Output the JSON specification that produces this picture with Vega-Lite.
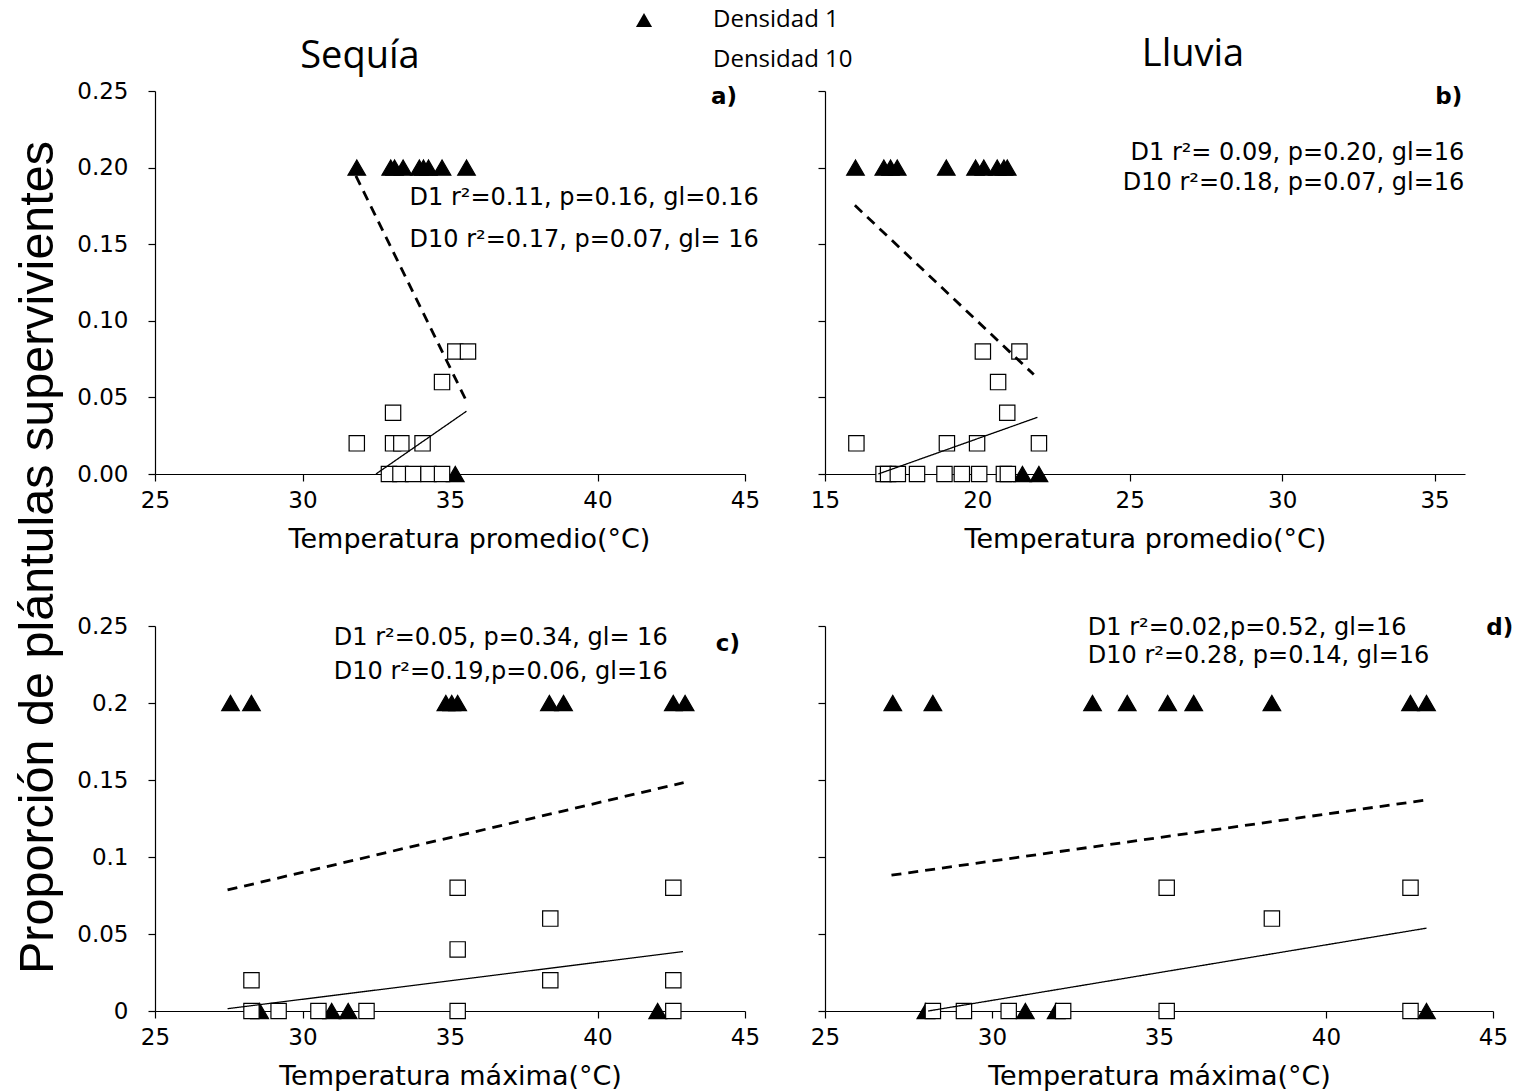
{
  "$schema": "https://vega.github.io/schema/vega-lite/v6.json",
  "background": "white",
  "padding": {"left": 12, "top": 8, "right": 5, "bottom": 2},
  "config": {
    "view": {"stroke": null},
    "axis": {"grid": false, "domainColor": "black", "tickColor": "black", "labelColor": "black", "titleColor": "black", "labelFont": "DejaVu Sans", "titleFont": "DejaVu Sans", "labelFontSize": 23, "titleFontSize": 27, "titleFontWeight": "normal", "tickSize": 7, "domainWidth": 1.2, "tickWidth": 1.2, "labelFlush": false, "labelOverlap": false},
    "axisX": {"labelPadding": 8, "titlePadding": 14},
    "axisY": {"labelPadding": 20},
    "text": {"font": "DejaVu Sans", "fontSize": 24, "color": "black"}
  },
  "datasets": {
    "pa": [
      {"t": 31.84, "p": 0.2, "serie": "Densidad 1"}, {"t": 32.99, "p": 0.2, "serie": "Densidad 1"}, {"t": 33.12, "p": 0.2, "serie": "Densidad 1"}, {"t": 33.41, "p": 0.2, "serie": "Densidad 1"}, {"t": 33.96, "p": 0.2, "serie": "Densidad 1"}, {"t": 34.1, "p": 0.2, "serie": "Densidad 1"}, {"t": 34.27, "p": 0.2, "serie": "Densidad 1"}, {"t": 34.73, "p": 0.2, "serie": "Densidad 1"}, {"t": 35.56, "p": 0.2, "serie": "Densidad 1"}, {"t": 35.18, "p": 0, "serie": "Densidad 1"},
      {"t": 35.18, "p": 0.08, "serie": "Densidad 10"}, {"t": 35.61, "p": 0.08, "serie": "Densidad 10"}, {"t": 34.73, "p": 0.06, "serie": "Densidad 10"}, {"t": 33.07, "p": 0.04, "serie": "Densidad 10"}, {"t": 31.84, "p": 0.02, "serie": "Densidad 10"}, {"t": 33.07, "p": 0.02, "serie": "Densidad 10"}, {"t": 33.35, "p": 0.02, "serie": "Densidad 10"}, {"t": 34.07, "p": 0.02, "serie": "Densidad 10"}, {"t": 32.93, "p": 0, "serie": "Densidad 10"}, {"t": 33.32, "p": 0, "serie": "Densidad 10"}, {"t": 33.75, "p": 0, "serie": "Densidad 10"}, {"t": 34.27, "p": 0, "serie": "Densidad 10"}, {"t": 34.73, "p": 0, "serie": "Densidad 10"}
    ],
    "la": [
      {"t": 31.81, "p": 0.1946, "serie": "Densidad 1"}, {"t": 35.56, "p": 0.0475, "serie": "Densidad 1"},
      {"t": 32.49, "p": 0, "serie": "Densidad 10"}, {"t": 35.56, "p": 0.041, "serie": "Densidad 10"}
    ],
    "ta": [
      {"t": 33.63, "p": 0.18, "txt": "D1 r²=0.11, p=0.16, gl=0.16"},
      {"t": 33.63, "p": 0.1525, "txt": "D10 r²=0.17, p=0.07, gl= 16"}
    ],
    "pb": [
      {"t": 16.0, "p": 0.2, "serie": "Densidad 1"}, {"t": 16.93, "p": 0.2, "serie": "Densidad 1"}, {"t": 17.15, "p": 0.2, "serie": "Densidad 1"}, {"t": 17.37, "p": 0.2, "serie": "Densidad 1"}, {"t": 18.98, "p": 0.2, "serie": "Densidad 1"}, {"t": 19.94, "p": 0.2, "serie": "Densidad 1"}, {"t": 20.21, "p": 0.2, "serie": "Densidad 1"}, {"t": 20.65, "p": 0.2, "serie": "Densidad 1"}, {"t": 20.87, "p": 0.2, "serie": "Densidad 1"}, {"t": 20.98, "p": 0.2, "serie": "Densidad 1"}, {"t": 21.48, "p": 0, "serie": "Densidad 1"}, {"t": 22.02, "p": 0, "serie": "Densidad 1"},
      {"t": 20.18, "p": 0.08, "serie": "Densidad 10"}, {"t": 21.38, "p": 0.08, "serie": "Densidad 10"}, {"t": 20.68, "p": 0.06, "serie": "Densidad 10"}, {"t": 20.98, "p": 0.04, "serie": "Densidad 10"}, {"t": 16.03, "p": 0.02, "serie": "Densidad 10"}, {"t": 19.0, "p": 0.02, "serie": "Densidad 10"}, {"t": 19.99, "p": 0.02, "serie": "Densidad 10"}, {"t": 22.02, "p": 0.02, "serie": "Densidad 10"}, {"t": 16.92, "p": 0, "serie": "Densidad 10"}, {"t": 17.07, "p": 0, "serie": "Densidad 10"}, {"t": 17.39, "p": 0, "serie": "Densidad 10"}, {"t": 18.02, "p": 0, "serie": "Densidad 10"}, {"t": 18.92, "p": 0, "serie": "Densidad 10"}, {"t": 19.49, "p": 0, "serie": "Densidad 10"}, {"t": 20.06, "p": 0, "serie": "Densidad 10"}, {"t": 20.87, "p": 0, "serie": "Densidad 10"}, {"t": 21.0, "p": 0, "serie": "Densidad 10"}
    ],
    "lb": [
      {"t": 15.98, "p": 0.1754, "serie": "Densidad 1"}, {"t": 21.85, "p": 0.0649, "serie": "Densidad 1"},
      {"t": 16.75, "p": 0, "serie": "Densidad 10"}, {"t": 21.97, "p": 0.037, "serie": "Densidad 10"}
    ],
    "tb": [
      {"t": 35.98, "p": 0.2095, "txt": "D1 r²= 0.09, p=0.20, gl=16"},
      {"t": 35.98, "p": 0.19, "txt": "D10 r²=0.18, p=0.07, gl=16"}
    ],
    "pc": [
      {"t": 27.56, "p": 0.2, "serie": "Densidad 1"}, {"t": 28.27, "p": 0.2, "serie": "Densidad 1"}, {"t": 34.86, "p": 0.2, "serie": "Densidad 1"}, {"t": 35.06, "p": 0.2, "serie": "Densidad 1"}, {"t": 35.26, "p": 0.2, "serie": "Densidad 1"}, {"t": 38.37, "p": 0.2, "serie": "Densidad 1"}, {"t": 38.85, "p": 0.2, "serie": "Densidad 1"}, {"t": 42.57, "p": 0.2, "serie": "Densidad 1"}, {"t": 42.97, "p": 0.2, "serie": "Densidad 1"}, {"t": 28.55, "p": 0, "serie": "Densidad 1"}, {"t": 30.99, "p": 0, "serie": "Densidad 1"}, {"t": 31.55, "p": 0, "serie": "Densidad 1"}, {"t": 42.04, "p": 0, "serie": "Densidad 1"},
      {"t": 35.26, "p": 0.08, "serie": "Densidad 10"}, {"t": 42.57, "p": 0.08, "serie": "Densidad 10"}, {"t": 38.4, "p": 0.06, "serie": "Densidad 10"}, {"t": 35.26, "p": 0.04, "serie": "Densidad 10"}, {"t": 28.27, "p": 0.02, "serie": "Densidad 10"}, {"t": 38.4, "p": 0.02, "serie": "Densidad 10"}, {"t": 42.57, "p": 0.02, "serie": "Densidad 10"}, {"t": 28.27, "p": 0, "serie": "Densidad 10"}, {"t": 29.19, "p": 0, "serie": "Densidad 10"}, {"t": 30.54, "p": 0, "serie": "Densidad 10"}, {"t": 32.17, "p": 0, "serie": "Densidad 10"}, {"t": 35.26, "p": 0, "serie": "Densidad 10"}, {"t": 42.57, "p": 0, "serie": "Densidad 10"}
    ],
    "lc": [
      {"t": 27.46, "p": 0.0786, "serie": "Densidad 1"}, {"t": 42.92, "p": 0.1483, "serie": "Densidad 1"},
      {"t": 27.46, "p": 0.0015, "serie": "Densidad 10"}, {"t": 42.9, "p": 0.0386, "serie": "Densidad 10"}
    ],
    "tc": [
      {"t": 31.06, "p": 0.2422, "txt": "D1 r²=0.05, p=0.34, gl= 16"},
      {"t": 31.06, "p": 0.2201, "txt": "D10 r²=0.19,p=0.06, gl=16"}
    ],
    "pd": [
      {"t": 27.03, "p": 0.2, "serie": "Densidad 1"}, {"t": 28.23, "p": 0.2, "serie": "Densidad 1"}, {"t": 33.01, "p": 0.2, "serie": "Densidad 1"}, {"t": 34.05, "p": 0.2, "serie": "Densidad 1"}, {"t": 35.26, "p": 0.2, "serie": "Densidad 1"}, {"t": 36.04, "p": 0.2, "serie": "Densidad 1"}, {"t": 38.38, "p": 0.2, "serie": "Densidad 1"}, {"t": 42.53, "p": 0.2, "serie": "Densidad 1"}, {"t": 43.01, "p": 0.2, "serie": "Densidad 1"}, {"t": 28.02, "p": 0, "serie": "Densidad 1"}, {"t": 31.0, "p": 0, "serie": "Densidad 1"}, {"t": 31.92, "p": 0, "serie": "Densidad 1"}, {"t": 43.01, "p": 0, "serie": "Densidad 1"},
      {"t": 35.23, "p": 0.08, "serie": "Densidad 10"}, {"t": 42.53, "p": 0.08, "serie": "Densidad 10"}, {"t": 38.38, "p": 0.06, "serie": "Densidad 10"}, {"t": 28.23, "p": 0, "serie": "Densidad 10"}, {"t": 29.16, "p": 0, "serie": "Densidad 10"}, {"t": 30.5, "p": 0, "serie": "Densidad 10"}, {"t": 32.13, "p": 0, "serie": "Densidad 10"}, {"t": 35.23, "p": 0, "serie": "Densidad 10"}, {"t": 42.53, "p": 0, "serie": "Densidad 10"}
    ],
    "ld": [
      {"t": 26.99, "p": 0.0882, "serie": "Densidad 1"}, {"t": 43.06, "p": 0.1372, "serie": "Densidad 1"},
      {"t": 28.09, "p": 0, "serie": "Densidad 10"}, {"t": 43.01, "p": 0.0538, "serie": "Densidad 10"}
    ],
    "td": [
      {"t": 32.87, "p": 0.2487, "txt": "D1 r²=0.02,p=0.52, gl=16"},
      {"t": 32.87, "p": 0.2306, "txt": "D10 r²=0.28, p=0.14, gl=16"}
    ],
    "letters_a": [{"t": 44.29, "p": 0.246, "txt": "a)"}],
    "letters_b": [{"t": 35.47, "p": 0.246, "txt": "b)"}],
    "letters_c": [{"t": 44.42, "p": 0.2383, "txt": "c)"}],
    "letters_d": [{"t": 45.2, "p": 0.2487, "txt": "d)"}]
  },
  "columns": 2,
  "spacing": {"row": 152, "column": 80},
  "bounds": "flush",
  "resolve": {"scale": {"x": "independent", "y": "independent", "shape": "independent", "fill": "independent", "strokeDash": "independent"}, "legend": {"shape": "independent", "fill": "independent", "strokeDash": "independent"}},
  "concat": [
    {
      "width": 590, "height": 383,
      "title": {"text": "Sequía", "font": "Open Sans", "fontSize": 38, "fontWeight": "normal", "color": "black", "anchor": "middle", "dx": -90, "offset": 4},
      "layer": [
        {"data": {"name": "pa"}, "mark": {"type": "point", "filled": true, "stroke": "black", "strokeWidth": 1.2, "opacity": 1},
         "encoding": {
           "x": {"field": "t", "type": "quantitative", "scale": {"domain": [25, 45], "nice": false, "zero": false}, "axis": {"values": [25, 30, 35, 40, 45], "title": "Temperatura promedio(°C)", "titleX": 314}},
           "y": {"field": "p", "type": "quantitative", "scale": {"domain": [0, 0.25], "nice": false}, "axis": {"values": [0, 0.05, 0.1, 0.15, 0.2, 0.25], "format": ".2f", "title": null}},
           "shape": {"field": "serie", "type": "nominal", "scale": {"domain": ["Densidad 1", "Densidad 10"], "range": ["triangle-up", "square"]}, "legend": null},
           "fill": {"condition": {"test": "datum.serie === 'Densidad 1'", "value": "black"}, "value": "white"},
           "size": {"condition": {"test": "datum.serie === 'Densidad 1'", "value": 310}, "value": 235}
         }},
        {"data": {"name": "la"}, "mark": {"type": "line", "color": "black"},
         "encoding": {
           "x": {"field": "t", "type": "quantitative"},
           "y": {"field": "p", "type": "quantitative"},
           "strokeDash": {"field": "serie", "type": "nominal", "scale": {"domain": ["Densidad 1", "Densidad 10"], "range": [[10, 7], [1, 0]]}, "legend": null},
           "strokeWidth": {"condition": {"test": "datum.serie === 'Densidad 1'", "value": 2.8}, "value": 1.3}
         }},
        {"data": {"name": "ta"}, "mark": {"type": "text", "align": "left", "baseline": "middle"},
         "encoding": {"x": {"field": "t", "type": "quantitative"}, "y": {"field": "p", "type": "quantitative"}, "text": {"field": "txt"}}},
        {"data": {"name": "letters_a"}, "mark": {"type": "text", "align": "center", "baseline": "middle", "fontWeight": "bold", "fontSize": 23},
         "encoding": {"x": {"field": "t", "type": "quantitative"}, "y": {"field": "p", "type": "quantitative"}, "text": {"field": "txt"}}}
      ]
    },
    {
      "width": 640, "height": 383,
      "title": {"text": "Lluvia", "font": "Open Sans", "fontSize": 38, "fontWeight": "normal", "color": "black", "anchor": "middle", "dx": 48, "offset": 12},
      "layer": [
        {"data": {"name": "pb"}, "mark": {"type": "point", "filled": true, "stroke": "black", "strokeWidth": 1.2, "opacity": 1},
         "encoding": {
           "x": {"field": "t", "type": "quantitative", "scale": {"domain": [15, 36], "nice": false, "zero": false}, "axis": {"values": [15, 20, 25, 30, 35], "title": "Temperatura promedio(°C)"}},
           "y": {"field": "p", "type": "quantitative", "scale": {"domain": [0, 0.25], "nice": false}, "axis": {"values": [0, 0.05, 0.1, 0.15, 0.2, 0.25], "labels": false, "title": null}},
           "shape": {"field": "serie", "type": "nominal", "scale": {"domain": ["Densidad 1", "Densidad 10"], "range": ["triangle-up", "square"]}, "legend": null},
           "fill": {"condition": {"test": "datum.serie === 'Densidad 1'", "value": "black"}, "value": "white"},
           "size": {"condition": {"test": "datum.serie === 'Densidad 1'", "value": 310}, "value": 235}
         }},
        {"data": {"name": "lb"}, "mark": {"type": "line", "color": "black"},
         "encoding": {
           "x": {"field": "t", "type": "quantitative"},
           "y": {"field": "p", "type": "quantitative"},
           "strokeDash": {"field": "serie", "type": "nominal", "scale": {"domain": ["Densidad 1", "Densidad 10"], "range": [[10, 7], [1, 0]]}, "legend": null},
           "strokeWidth": {"condition": {"test": "datum.serie === 'Densidad 1'", "value": 2.8}, "value": 1.3}
         }},
        {"data": {"name": "tb"}, "mark": {"type": "text", "align": "right", "baseline": "middle"},
         "encoding": {"x": {"field": "t", "type": "quantitative"}, "y": {"field": "p", "type": "quantitative"}, "text": {"field": "txt"}}},
        {"data": {"name": "letters_b"}, "mark": {"type": "text", "align": "center", "baseline": "middle", "fontWeight": "bold", "fontSize": 23},
         "encoding": {"x": {"field": "t", "type": "quantitative"}, "y": {"field": "p", "type": "quantitative"}, "text": {"field": "txt"}}}
      ]
    },
    {
      "width": 590, "height": 385,
      "layer": [
        {"data": {"name": "pc"}, "mark": {"type": "point", "filled": true, "stroke": "black", "strokeWidth": 1.2, "opacity": 1},
         "encoding": {
           "x": {"field": "t", "type": "quantitative", "scale": {"domain": [25, 45], "nice": false, "zero": false}, "axis": {"values": [25, 30, 35, 40, 45], "title": "Temperatura máxima(°C)"}},
           "y": {"field": "p", "type": "quantitative", "scale": {"domain": [0, 0.25], "nice": false}, "axis": {"values": [0, 0.05, 0.1, 0.15, 0.2, 0.25], "format": "~g", "title": "Proporción de plántulas supervivientes", "titleFont": "Liberation Sans", "titleFontSize": 48.5, "titleX": -118, "titleY": -69, "titleAlign": "center", "titleBaseline": "middle", "titleAngle": 270}},
           "shape": {"field": "serie", "type": "nominal", "scale": {"domain": ["Densidad 1", "Densidad 10"], "range": ["triangle-up", "square"]},
             "legend": {"orient": "none", "legendX": 477, "legendY": -618, "title": null, "padding": 0,
               "symbolSize": 260, "symbolStrokeWidth": 1.6, "symbolStrokeColor": "black", "symbolOpacity": 1,
               "labelFont": "Open Sans", "labelFontSize": 24, "labelColor": "black", "labelOffset": 57, "rowPadding": 16}},
           "fill": {"field": "serie", "type": "nominal", "scale": {"domain": ["Densidad 1", "Densidad 10"], "range": ["black", "white"]},
             "legend": {"orient": "none", "legendX": 477, "legendY": -618, "title": null, "padding": 0,
               "symbolSize": 260, "symbolStrokeWidth": 1.6, "symbolStrokeColor": "black", "symbolOpacity": 1,
               "labelFont": "Open Sans", "labelFontSize": 24, "labelColor": "black", "labelOffset": 57, "rowPadding": 16}},
           "size": {"condition": {"test": "datum.serie === 'Densidad 1'", "value": 310}, "value": 235}
         }},
        {"data": {"name": "lc"}, "mark": {"type": "line", "color": "black"},
         "encoding": {
           "x": {"field": "t", "type": "quantitative"},
           "y": {"field": "p", "type": "quantitative"},
           "strokeDash": {"field": "serie", "type": "nominal", "scale": {"domain": ["Densidad 1", "Densidad 10"], "range": [[10, 7], [1, 0]]}, "legend": null},
           "strokeWidth": {"condition": {"test": "datum.serie === 'Densidad 1'", "value": 2.8}, "value": 1.3}
         }},
        {"data": {"name": "tc"}, "mark": {"type": "text", "align": "left", "baseline": "middle"},
         "encoding": {"x": {"field": "t", "type": "quantitative"}, "y": {"field": "p", "type": "quantitative"}, "text": {"field": "txt"}}},
        {"data": {"name": "letters_c"}, "mark": {"type": "text", "align": "center", "baseline": "middle", "fontWeight": "bold", "fontSize": 23},
         "encoding": {"x": {"field": "t", "type": "quantitative"}, "y": {"field": "p", "type": "quantitative"}, "text": {"field": "txt"}}}
      ]
    },
    {
      "width": 668, "height": 385,
      "layer": [
        {"data": {"name": "pd"}, "mark": {"type": "point", "filled": true, "stroke": "black", "strokeWidth": 1.2, "opacity": 1},
         "encoding": {
           "x": {"field": "t", "type": "quantitative", "scale": {"domain": [25, 45], "nice": false, "zero": false}, "axis": {"values": [25, 30, 35, 40, 45], "title": "Temperatura máxima(°C)"}},
           "y": {"field": "p", "type": "quantitative", "scale": {"domain": [0, 0.25], "nice": false}, "axis": {"values": [0, 0.05, 0.1, 0.15, 0.2, 0.25], "labels": false, "title": null}},
           "shape": {"field": "serie", "type": "nominal", "scale": {"domain": ["Densidad 1", "Densidad 10"], "range": ["triangle-up", "square"]}, "legend": null},
           "fill": {"condition": {"test": "datum.serie === 'Densidad 1'", "value": "black"}, "value": "white"},
           "size": {"condition": {"test": "datum.serie === 'Densidad 1'", "value": 310}, "value": 235}
         }},
        {"data": {"name": "ld"}, "mark": {"type": "line", "color": "black"},
         "encoding": {
           "x": {"field": "t", "type": "quantitative"},
           "y": {"field": "p", "type": "quantitative"},
           "strokeDash": {"field": "serie", "type": "nominal", "scale": {"domain": ["Densidad 1", "Densidad 10"], "range": [[10, 7], [1, 0]]}, "legend": null},
           "strokeWidth": {"condition": {"test": "datum.serie === 'Densidad 1'", "value": 2.8}, "value": 1.3}
         }},
        {"data": {"name": "td"}, "mark": {"type": "text", "align": "left", "baseline": "middle"},
         "encoding": {"x": {"field": "t", "type": "quantitative"}, "y": {"field": "p", "type": "quantitative"}, "text": {"field": "txt"}}},
        {"data": {"name": "letters_d"}, "mark": {"type": "text", "align": "center", "baseline": "middle", "fontWeight": "bold", "fontSize": 23},
         "encoding": {"x": {"field": "t", "type": "quantitative"}, "y": {"field": "p", "type": "quantitative"}, "text": {"field": "txt"}}}
      ]
    }
  ]
}
